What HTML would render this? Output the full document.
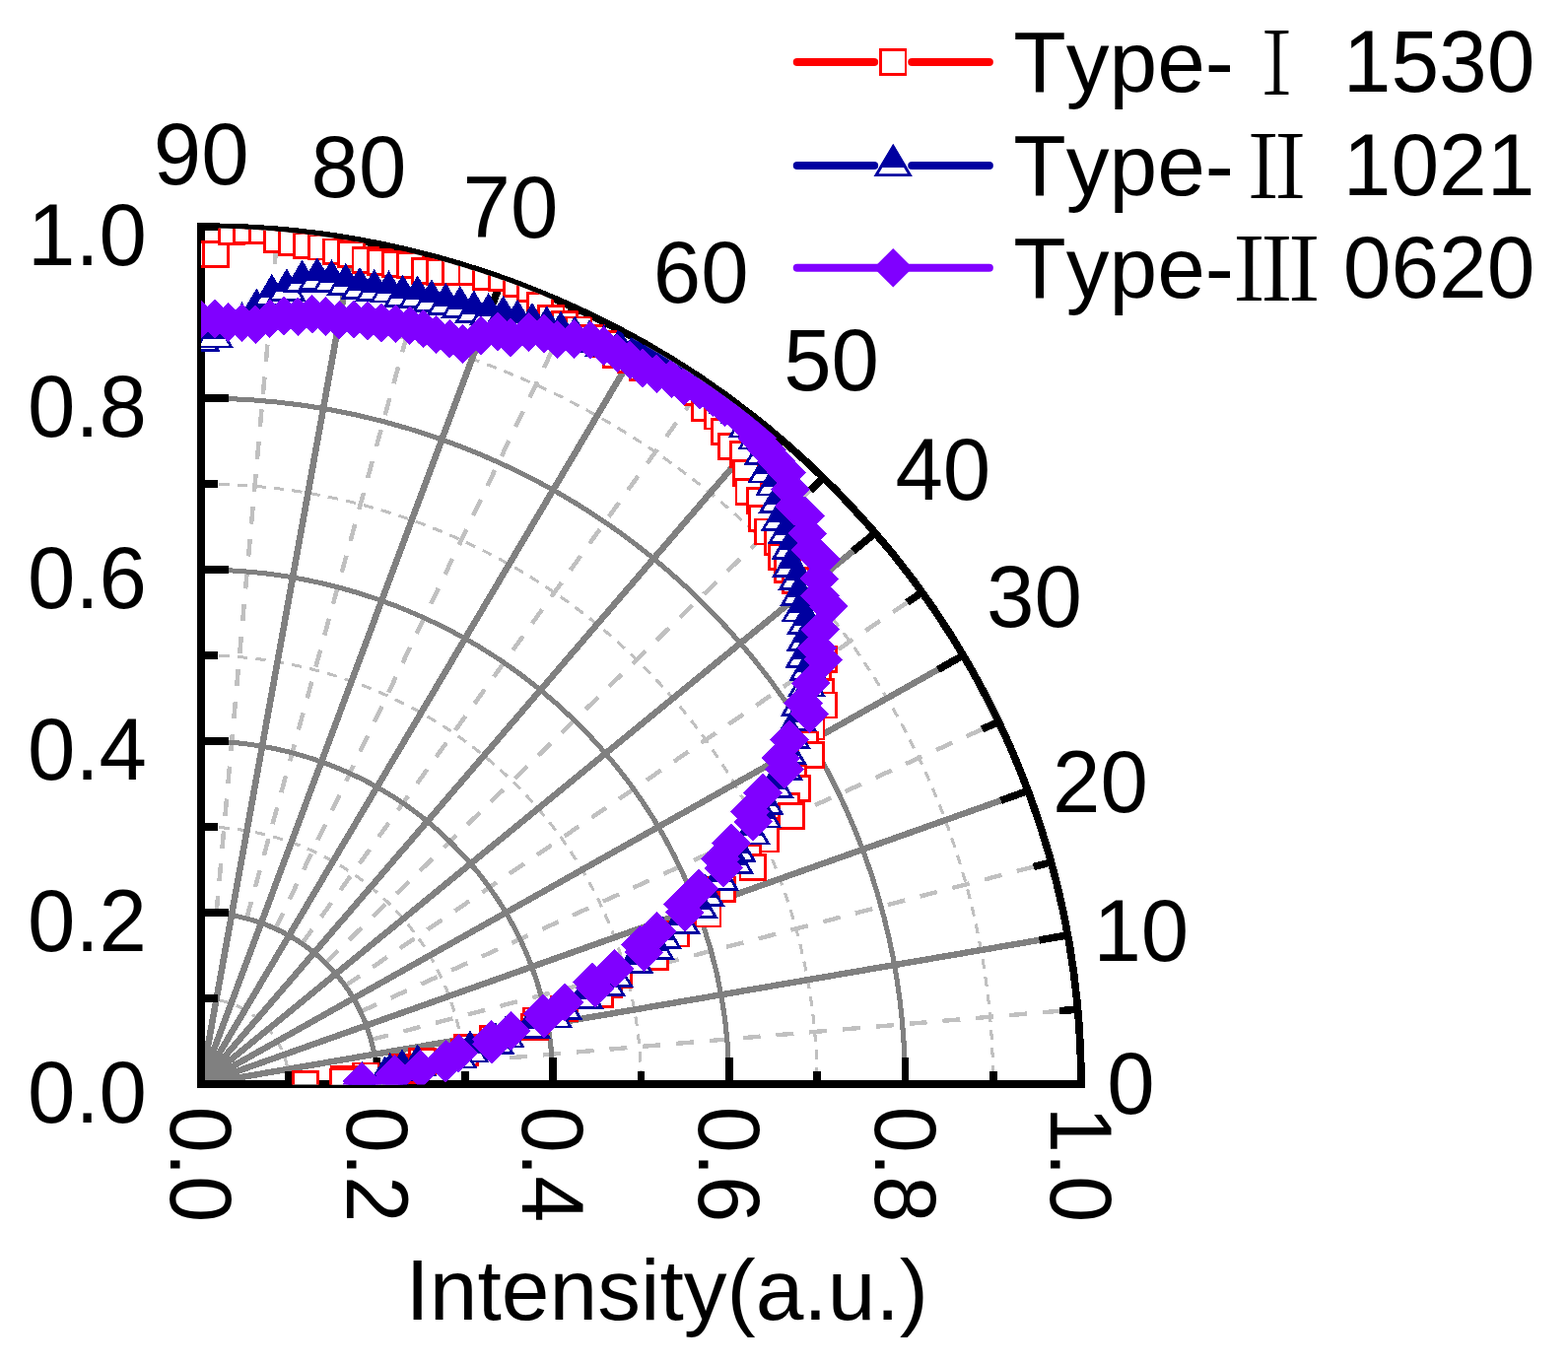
<!DOCTYPE html>
<html lang="en"><head><meta charset="utf-8"><title>Intensity polar plot</title>
<style>
html,body{margin:0;padding:0;background:#fff;}
body{width:1591px;height:1384px;overflow:hidden;}
svg{display:block;}
text{font-family:"Liberation Sans","Noto Serif CJK SC",sans-serif;fill:#000;font-kerning:none;}
.rn{font-family:"Liberation Serif","Noto Serif CJK SC",serif;}
</style></head><body>
<svg xmlns="http://www.w3.org/2000/svg" width="1591" height="1384" viewBox="0 0 1591 1384">
<rect width="1591" height="1384" fill="#fff"/>
<defs><clipPath id="q"><path d="M198.75 1100.5 H1067.25 V1100 A868.5 868.5 0 0 0 198.75 231.5 Z"/></clipPath></defs>
<g transform="scale(1.02644 1)">
<g fill="none" shape-rendering="crispEdges">
<g stroke="#c0c0c0" stroke-width="3" stroke-dasharray="10 8.07">
<path d="M198.7 1013 A87 87 0 0 1 285.7 1100"/>
<path d="M198.7 839 A261 261 0 0 1 459.7 1100"/>
<path d="M198.7 665 A435 435 0 0 1 633.7 1100"/>
<path d="M198.7 491 A609 609 0 0 1 807.7 1100"/>
<path d="M198.7 317 A783 783 0 0 1 981.7 1100"/>
</g>
<g stroke="#c0c0c0" stroke-width="4.4" stroke-dasharray="17.5 15.55">
<path d="M372.1 1084.8 L1065.4 1024.2"/>
<path d="M366.8 1055 L1039.1 874.8"/>
<path d="M356.4 1026.5 L987.2 732.3"/>
<path d="M341.3 1000.2 L911.4 601"/>
<path d="M321.8 977 L813.9 484.8"/>
<path d="M298.5 957.5 L697.8 387.3"/>
<path d="M272.3 942.3 L566.4 311.5"/>
<path d="M243.8 931.9 L423.9 259.6"/>
<path d="M213.9 926.7 L274.6 233.3"/>
</g>
<g stroke="#808080" stroke-width="5">
<path d="M198.7 926 A174 174 0 0 1 372.7 1100"/>
<path d="M198.7 752 A348 348 0 0 1 546.7 1100"/>
<path d="M198.7 578 A522 522 0 0 1 720.7 1100"/>
<path d="M198.7 404 A696 696 0 0 1 894.7 1100"/>
</g>
<g stroke="#808080" stroke-width="6.4">
<path d="M198.7 1100 L1055.5 948.9"/>
<path d="M198.7 1100 L1016.3 802.4"/>
<path d="M198.7 1100 L952.2 665"/>
<path d="M198.7 1100 L865.2 540.8"/>
<path d="M198.7 1100 L758 433.5"/>
<path d="M198.7 1100 L633.7 346.6"/>
<path d="M198.7 1100 L496.3 282.5"/>
<path d="M198.7 1100 L349.8 243.2"/>
</g>
</g>
<g fill="none" stroke="#000" stroke-width="7.5" shape-rendering="crispEdges">
<path d="M198.7 226.2 L198.7 1100 L1068.7 1100 A870 870 0 0 0 198.7 230" stroke-linejoin="miter"/>
<path d="M198.7 1013 H215.3"/>
<path d="M198.7 926 H226"/>
<path d="M198.7 839 H215.3"/>
<path d="M198.7 752 H226"/>
<path d="M198.7 665 H215.3"/>
<path d="M198.7 578 H226"/>
<path d="M198.7 491 H215.3"/>
<path d="M198.7 404 H226"/>
<path d="M198.7 317 H215.3"/>
<path d="M285.7 1100 V1087"/>
<path d="M372.7 1100 V1072.7"/>
<path d="M459.7 1100 V1087"/>
<path d="M546.7 1100 V1072.7"/>
<path d="M633.7 1100 V1087"/>
<path d="M720.7 1100 V1072.7"/>
<path d="M807.7 1100 V1087"/>
<path d="M894.7 1100 V1072.7"/>
<path d="M981.7 1100 V1087"/>
<path d="M1065.4 1024.2 L1047.5 1025.7"/>
<path d="M1055.5 948.9 L1027.3 953.9"/>
<path d="M1039.1 874.8 L1021.7 879.5"/>
<path d="M1016.3 802.4 L989.3 812.3"/>
<path d="M987.2 732.3 L970.9 739.9"/>
<path d="M952.2 665 L927.3 679.4"/>
<path d="M911.4 601 L896.7 611.3"/>
<path d="M865.2 540.8 L843.2 559.2"/>
<path d="M813.9 484.8 L801.2 497.5"/>
<path d="M758 433.5 L739.5 455.5"/>
<path d="M697.8 387.3 L687.4 402.1"/>
<path d="M633.7 346.6 L619.4 371.4"/>
<path d="M566.4 311.5 L558.8 327.8"/>
<path d="M496.3 282.5 L486.5 309.4"/>
<path d="M423.9 259.6 L419.3 277"/>
<path d="M349.8 243.2 L344.8 271.5"/>
<path d="M274.6 233.3 L273 251.2"/>
</g>
<g clip-path="url(#q)" shape-rendering="crispEdges">
<g fill="#fff" stroke="#ff0000" stroke-width="2.8">
<rect x="186.3" y="245.4" width="24.9" height="24.9"/>
<rect x="201" y="245.5" width="24.9" height="24.9"/>
<rect x="216.5" y="222.4" width="24.9" height="24.9"/>
<rect x="231.7" y="221.3" width="24.9" height="24.9"/>
<rect x="246.9" y="221.4" width="24.9" height="24.9"/>
<rect x="261.3" y="230.4" width="24.9" height="24.9"/>
<rect x="276.1" y="233.6" width="24.9" height="24.9"/>
<rect x="290.7" y="237" width="24.9" height="24.9"/>
<rect x="305.7" y="238.1" width="24.9" height="24.9"/>
<rect x="320.1" y="242.9" width="24.9" height="24.9"/>
<rect x="334.8" y="245.3" width="24.9" height="24.9"/>
<rect x="348.8" y="251.5" width="24.9" height="24.9"/>
<rect x="363.6" y="253.6" width="24.9" height="24.9"/>
<rect x="378.4" y="255.5" width="24.9" height="24.9"/>
<rect x="393.4" y="256.9" width="24.9" height="24.9"/>
<rect x="407.4" y="262.3" width="24.9" height="24.9"/>
<rect x="422.5" y="263.8" width="24.9" height="24.9"/>
<rect x="438.1" y="263.9" width="24.9" height="24.9"/>
<rect x="454" y="263.7" width="24.9" height="24.9"/>
<rect x="468.3" y="268.7" width="24.9" height="24.9"/>
<rect x="483.9" y="270" width="24.9" height="24.9"/>
<rect x="498.1" y="275.3" width="24.9" height="24.9"/>
<rect x="512.2" y="280.9" width="24.9" height="24.9"/>
<rect x="521.5" y="297.9" width="24.9" height="24.9"/>
<rect x="532.4" y="310.3" width="24.9" height="24.9"/>
<rect x="545.9" y="316.4" width="24.9" height="24.9"/>
<rect x="559.7" y="322" width="24.9" height="24.9"/>
<rect x="572.2" y="330.2" width="24.9" height="24.9"/>
<rect x="585.8" y="336.3" width="24.9" height="24.9"/>
<rect x="596.7" y="347.2" width="24.9" height="24.9"/>
<rect x="610.9" y="352.2" width="24.9" height="24.9"/>
<rect x="623.2" y="360.5" width="24.9" height="24.9"/>
<rect x="642.7" y="357.1" width="24.9" height="24.9"/>
<rect x="656.3" y="363.7" width="24.9" height="24.9"/>
<rect x="668.9" y="372.1" width="24.9" height="24.9"/>
<rect x="677.6" y="385.9" width="24.9" height="24.9"/>
<rect x="684.4" y="402" width="24.9" height="24.9"/>
<rect x="696.8" y="410.1" width="24.9" height="24.9"/>
<rect x="703.7" y="425.3" width="24.9" height="24.9"/>
<rect x="710.3" y="440.5" width="24.9" height="24.9"/>
<rect x="722.6" y="448.4" width="24.9" height="24.9"/>
<rect x="725.1" y="467.7" width="24.9" height="24.9"/>
<rect x="727.7" y="486.3" width="24.9" height="24.9"/>
<rect x="738.7" y="495.2" width="24.9" height="24.9"/>
<rect x="740.5" y="513.7" width="24.9" height="24.9"/>
<rect x="746.7" y="527.1" width="24.9" height="24.9"/>
<rect x="756.2" y="537.2" width="24.9" height="24.9"/>
<rect x="760.2" y="552.4" width="24.9" height="24.9"/>
<rect x="766.2" y="565.4" width="24.9" height="24.9"/>
<rect x="774.3" y="576.4" width="24.9" height="24.9"/>
<rect x="786.1" y="584.2" width="24.9" height="24.9"/>
<rect x="788" y="600.3" width="24.9" height="24.9"/>
<rect x="795.1" y="611.9" width="24.9" height="24.9"/>
<rect x="792.2" y="631" width="24.9" height="24.9"/>
<rect x="790.2" y="648.8" width="24.9" height="24.9"/>
<rect x="802" y="656.4" width="24.9" height="24.9"/>
<rect x="795.8" y="676.5" width="24.9" height="24.9"/>
<rect x="799.2" y="689.5" width="24.9" height="24.9"/>
<rect x="801.6" y="703.1" width="24.9" height="24.9"/>
<rect x="789.6" y="725.1" width="24.9" height="24.9"/>
<rect x="783" y="743" width="24.9" height="24.9"/>
<rect x="788.9" y="753.5" width="24.9" height="24.9"/>
<rect x="771.3" y="776.5" width="24.9" height="24.9"/>
<rect x="775.4" y="787.4" width="24.9" height="24.9"/>
<rect x="764.9" y="805.3" width="24.9" height="24.9"/>
<rect x="769.8" y="815.5" width="24.9" height="24.9"/>
<rect x="744.2" y="839.1" width="24.9" height="24.9"/>
<rect x="726.9" y="858.1" width="24.9" height="24.9"/>
<rect x="731.6" y="867.2" width="24.9" height="24.9"/>
<rect x="701.2" y="889.9" width="24.9" height="24.9"/>
<rect x="685.8" y="905.7" width="24.9" height="24.9"/>
<rect x="687.3" y="915.1" width="24.9" height="24.9"/>
<rect x="655.9" y="935" width="24.9" height="24.9"/>
<rect x="634.7" y="950.4" width="24.9" height="24.9"/>
<rect x="635.4" y="958.8" width="24.9" height="24.9"/>
<rect x="598.9" y="977" width="24.9" height="24.9"/>
<rect x="589.8" y="986.9" width="24.9" height="24.9"/>
<rect x="580.5" y="996.5" width="24.9" height="24.9"/>
<rect x="545.4" y="1011.2" width="24.9" height="24.9"/>
<rect x="517.7" y="1023.1" width="24.9" height="24.9"/>
<rect x="516.2" y="1029.4" width="24.9" height="24.9"/>
<rect x="475" y="1041.8" width="24.9" height="24.9"/>
<rect x="449.1" y="1050.6" width="24.9" height="24.9"/>
<rect x="447.1" y="1055.5" width="24.9" height="24.9"/>
<rect x="405.2" y="1064.5" width="24.9" height="24.9"/>
<rect x="384.8" y="1070.2" width="24.9" height="24.9"/>
<rect x="385" y="1073.7" width="24.9" height="24.9"/>
<rect x="349.2" y="1079" width="24.9" height="24.9"/>
<rect x="328" y="1082.6" width="24.9" height="24.9"/>
<rect x="327.2" y="1085.1" width="24.9" height="24.9"/>
<rect x="289.5" y="1087.5" width="24.9" height="24.9"/>
</g>
<g stroke="#0000a0" stroke-width="2.8" stroke-linejoin="miter">
<path d="M198.7 326.4 L215.5 355.4 L182 355.4 Z" fill="#fff"/><path d="M198.7 326.4 L210.2 346.2 L187.3 346.2 Z" fill="#0000a0"/>
<path d="M212 323 L228.7 352 L195.2 352 Z" fill="#fff"/><path d="M212 323 L223.4 342.8 L200.5 342.8 Z" fill="#0000a0"/>
<path d="M225.7 309.5 L242.4 338.4 L209 338.4 Z" fill="#fff"/><path d="M225.7 309.5 L237.1 329.3 L214.2 329.3 Z" fill="#0000a0"/>
<path d="M239.2 309.2 L255.9 338.2 L222.5 338.2 Z" fill="#fff"/><path d="M239.2 309.2 L250.6 329 L227.7 329 Z" fill="#0000a0"/>
<path d="M253.7 295.3 L270.4 324.2 L236.9 324.2 Z" fill="#fff"/><path d="M253.7 295.3 L265.1 315.1 L242.2 315.1 Z" fill="#0000a0"/>
<path d="M268.7 280.7 L285.5 309.7 L252 309.7 Z" fill="#fff"/><path d="M268.7 280.7 L280.2 300.5 L257.3 300.5 Z" fill="#0000a0"/>
<path d="M283.4 275.2 L300.1 304.1 L266.7 304.1 Z" fill="#fff"/><path d="M283.4 275.2 L294.8 295 L272 295 Z" fill="#0000a0"/>
<path d="M298.7 266.4 L315.5 295.4 L282 295.4 Z" fill="#fff"/><path d="M298.7 266.4 L310.2 286.2 L287.3 286.2 Z" fill="#0000a0"/>
<path d="M313.5 264 L330.3 292.9 L296.8 292.9 Z" fill="#fff"/><path d="M313.5 264 L325 283.8 L302.1 283.8 Z" fill="#0000a0"/>
<path d="M327.8 266.1 L344.5 295.1 L311 295.1 Z" fill="#fff"/><path d="M327.8 266.1 L339.2 285.9 L316.3 285.9 Z" fill="#0000a0"/>
<path d="M341.7 269.7 L358.5 298.7 L325 298.7 Z" fill="#fff"/><path d="M341.7 269.7 L353.2 289.6 L330.3 289.6 Z" fill="#0000a0"/>
<path d="M355.6 273.6 L372.3 302.6 L338.9 302.6 Z" fill="#fff"/><path d="M355.6 273.6 L367.1 293.5 L344.2 293.5 Z" fill="#0000a0"/>
<path d="M369.9 275.7 L386.6 304.6 L353.1 304.6 Z" fill="#fff"/><path d="M369.9 275.7 L381.3 295.5 L358.4 295.5 Z" fill="#0000a0"/>
<path d="M384.3 277.1 L401 306 L367.6 306 Z" fill="#fff"/><path d="M384.3 277.1 L395.7 296.9 L372.8 296.9 Z" fill="#0000a0"/>
<path d="M398.1 281.3 L414.8 310.2 L381.3 310.2 Z" fill="#fff"/><path d="M398.1 281.3 L409.5 301.1 L386.6 301.1 Z" fill="#0000a0"/>
<path d="M412.7 282.3 L429.4 311.3 L395.9 311.3 Z" fill="#fff"/><path d="M412.7 282.3 L424.1 302.2 L401.2 302.2 Z" fill="#0000a0"/>
<path d="M426.6 286.2 L443.3 315.2 L409.8 315.2 Z" fill="#fff"/><path d="M426.6 286.2 L438 306 L415.1 306 Z" fill="#0000a0"/>
<path d="M440.6 289.5 L457.4 318.4 L423.9 318.4 Z" fill="#fff"/><path d="M440.6 289.5 L452.1 309.3 L429.2 309.3 Z" fill="#0000a0"/>
<path d="M454.8 292.6 L471.5 321.5 L438.1 321.5 Z" fill="#fff"/><path d="M454.8 292.6 L466.3 312.4 L443.4 312.4 Z" fill="#0000a0"/>
<path d="M468.5 297.2 L485.2 326.2 L451.8 326.2 Z" fill="#fff"/><path d="M468.5 297.2 L479.9 317.1 L457.1 317.1 Z" fill="#0000a0"/>
<path d="M482.9 299.9 L499.6 328.9 L466.2 328.9 Z" fill="#fff"/><path d="M482.9 299.9 L494.4 319.8 L471.5 319.8 Z" fill="#0000a0"/>
<path d="M497.4 302.6 L514.2 331.6 L480.7 331.6 Z" fill="#fff"/><path d="M497.4 302.6 L508.9 322.4 L486 322.4 Z" fill="#0000a0"/>
<path d="M511.6 306.3 L528.3 335.3 L494.9 335.3 Z" fill="#fff"/><path d="M511.6 306.3 L523.1 326.1 L500.2 326.1 Z" fill="#0000a0"/>
<path d="M526.1 309.5 L542.8 338.4 L509.4 338.4 Z" fill="#fff"/><path d="M526.1 309.5 L537.5 329.3 L514.7 329.3 Z" fill="#0000a0"/>
<path d="M540.6 312.9 L557.3 341.9 L523.9 341.9 Z" fill="#fff"/><path d="M540.6 312.9 L552 332.7 L529.1 332.7 Z" fill="#0000a0"/>
<path d="M554.3 318.2 L571 347.2 L537.6 347.2 Z" fill="#fff"/><path d="M554.3 318.2 L565.7 338 L542.9 338 Z" fill="#0000a0"/>
<path d="M568.3 323 L585 351.9 L551.6 351.9 Z" fill="#fff"/><path d="M568.3 323 L579.7 342.8 L556.9 342.8 Z" fill="#0000a0"/>
<path d="M582.7 327.2 L599.4 356.2 L565.9 356.2 Z" fill="#fff"/><path d="M582.7 327.2 L594.1 347 L571.2 347 Z" fill="#0000a0"/>
<path d="M597 331.7 L613.7 360.7 L580.2 360.7 Z" fill="#fff"/><path d="M597 331.7 L608.4 351.5 L585.5 351.5 Z" fill="#0000a0"/>
<path d="M612.1 335 L628.8 364 L595.4 364 Z" fill="#fff"/><path d="M612.1 335 L623.5 354.8 L600.7 354.8 Z" fill="#0000a0"/>
<path d="M627.2 338.5 L643.9 367.5 L610.5 367.5 Z" fill="#fff"/><path d="M627.2 338.5 L638.7 358.4 L615.8 358.4 Z" fill="#0000a0"/>
<path d="M642.3 342.4 L659.1 371.4 L625.6 371.4 Z" fill="#fff"/><path d="M642.3 342.4 L653.8 362.2 L630.9 362.2 Z" fill="#0000a0"/>
<path d="M657 347.3 L673.7 376.3 L640.3 376.3 Z" fill="#fff"/><path d="M657 347.3 L668.4 367.1 L645.6 367.1 Z" fill="#0000a0"/>
<path d="M670.2 354.7 L686.9 383.7 L653.5 383.7 Z" fill="#fff"/><path d="M670.2 354.7 L681.7 374.5 L658.8 374.5 Z" fill="#0000a0"/>
<path d="M683.3 362.3 L700 391.3 L666.6 391.3 Z" fill="#fff"/><path d="M683.3 362.3 L694.7 382.1 L671.9 382.1 Z" fill="#0000a0"/>
<path d="M695.8 370.9 L712.5 399.8 L679 399.8 Z" fill="#fff"/><path d="M695.8 370.9 L707.2 390.7 L684.3 390.7 Z" fill="#0000a0"/>
<path d="M708.1 379.7 L724.8 408.6 L691.3 408.6 Z" fill="#fff"/><path d="M708.1 379.7 L719.5 399.5 L696.6 399.5 Z" fill="#0000a0"/>
<path d="M719.7 389.3 L736.4 418.3 L703 418.3 Z" fill="#fff"/><path d="M719.7 389.3 L731.1 409.2 L708.3 409.2 Z" fill="#0000a0"/>
<path d="M730.6 399.9 L747.3 428.9 L713.9 428.9 Z" fill="#fff"/><path d="M730.6 399.9 L742.1 419.7 L719.2 419.7 Z" fill="#0000a0"/>
<path d="M738.6 414 L755.3 443 L721.9 443 Z" fill="#fff"/><path d="M738.6 414 L750 433.8 L727.2 433.8 Z" fill="#0000a0"/>
<path d="M748.2 425.9 L764.9 454.9 L731.5 454.9 Z" fill="#fff"/><path d="M748.2 425.9 L759.6 445.7 L736.7 445.7 Z" fill="#0000a0"/>
<path d="M754.1 441.8 L770.8 470.8 L737.4 470.8 Z" fill="#fff"/><path d="M754.1 441.8 L765.5 461.6 L742.7 461.6 Z" fill="#0000a0"/>
<path d="M757.6 460 L774.3 489 L740.9 489 Z" fill="#fff"/><path d="M757.6 460 L769 479.8 L746.2 479.8 Z" fill="#0000a0"/>
<path d="M765.4 473 L782.1 502 L748.7 502 Z" fill="#fff"/><path d="M765.4 473 L776.8 492.9 L753.9 492.9 Z" fill="#0000a0"/>
<path d="M768.7 490.5 L785.4 519.5 L751.9 519.5 Z" fill="#fff"/><path d="M768.7 490.5 L780.1 510.3 L757.2 510.3 Z" fill="#0000a0"/>
<path d="M770.9 508.6 L787.6 537.5 L754.1 537.5 Z" fill="#fff"/><path d="M770.9 508.6 L782.3 528.4 L759.4 528.4 Z" fill="#0000a0"/>
<path d="M777.6 521.7 L794.4 550.6 L760.9 550.6 Z" fill="#fff"/><path d="M777.6 521.7 L789.1 541.5 L766.2 541.5 Z" fill="#0000a0"/>
<path d="M781.6 537.2 L798.3 566.2 L764.9 566.2 Z" fill="#fff"/><path d="M781.6 537.2 L793 557 L770.1 557 Z" fill="#0000a0"/>
<path d="M781.9 555.6 L798.6 584.6 L765.2 584.6 Z" fill="#fff"/><path d="M781.9 555.6 L793.4 575.4 L770.5 575.4 Z" fill="#0000a0"/>
<path d="M788.4 568.1 L805.1 597.1 L771.6 597.1 Z" fill="#fff"/><path d="M788.4 568.1 L799.8 587.9 L776.9 587.9 Z" fill="#0000a0"/>
<path d="M789.9 584.7 L806.6 613.6 L773.2 613.6 Z" fill="#fff"/><path d="M789.9 584.7 L801.3 604.5 L778.5 604.5 Z" fill="#0000a0"/>
<path d="M791 601.1 L807.7 630 L774.3 630 Z" fill="#fff"/><path d="M791 601.1 L802.5 620.9 L779.6 620.9 Z" fill="#0000a0"/>
<path d="M796.6 613.6 L813.3 642.6 L779.8 642.6 Z" fill="#fff"/><path d="M796.6 613.6 L808 633.4 L785.1 633.4 Z" fill="#0000a0"/>
<path d="M796.3 630.4 L813 659.4 L779.6 659.4 Z" fill="#fff"/><path d="M796.3 630.4 L807.7 650.2 L784.8 650.2 Z" fill="#0000a0"/>
<path d="M794.9 647.6 L811.6 676.5 L778.2 676.5 Z" fill="#fff"/><path d="M794.9 647.6 L806.3 667.4 L783.5 667.4 Z" fill="#0000a0"/>
<path d="M798.8 660.5 L815.5 689.5 L782.1 689.5 Z" fill="#fff"/><path d="M798.8 660.5 L810.2 680.3 L787.4 680.3 Z" fill="#0000a0"/>
<path d="M797.4 676.9 L814.1 705.9 L780.7 705.9 Z" fill="#fff"/><path d="M797.4 676.9 L808.8 696.7 L786 696.7 Z" fill="#0000a0"/>
<path d="M790.5 696.4 L807.2 725.4 L773.8 725.4 Z" fill="#fff"/><path d="M790.5 696.4 L801.9 716.2 L779 716.2 Z" fill="#0000a0"/>
<path d="M789 711.9 L805.7 740.8 L772.3 740.8 Z" fill="#fff"/><path d="M789 711.9 L800.4 731.7 L777.5 731.7 Z" fill="#0000a0"/>
<path d="M782.7 729.8 L799.4 758.8 L765.9 758.8 Z" fill="#fff"/><path d="M782.7 729.8 L794.1 749.7 L771.2 749.7 Z" fill="#0000a0"/>
<path d="M778.9 745.7 L795.6 774.7 L762.2 774.7 Z" fill="#fff"/><path d="M778.9 745.7 L790.3 765.6 L767.5 765.6 Z" fill="#0000a0"/>
<path d="M774.8 761.4 L791.5 790.4 L758 790.4 Z" fill="#fff"/><path d="M774.8 761.4 L786.2 781.2 L763.3 781.2 Z" fill="#0000a0"/>
<path d="M765.7 779.3 L782.4 808.2 L748.9 808.2 Z" fill="#fff"/><path d="M765.7 779.3 L777.1 799.1 L754.2 799.1 Z" fill="#0000a0"/>
<path d="M756.1 796.7 L772.8 825.7 L739.4 825.7 Z" fill="#fff"/><path d="M756.1 796.7 L767.5 816.5 L744.7 816.5 Z" fill="#0000a0"/>
<path d="M753.9 809.9 L770.7 838.9 L737.2 838.9 Z" fill="#fff"/><path d="M753.9 809.9 L765.4 829.7 L742.5 829.7 Z" fill="#0000a0"/>
<path d="M742.8 827 L759.5 856 L726.1 856 Z" fill="#fff"/><path d="M742.8 827 L754.2 846.8 L731.4 846.8 Z" fill="#0000a0"/>
<path d="M728.9 844.7 L745.6 873.6 L712.1 873.6 Z" fill="#fff"/><path d="M728.9 844.7 L740.3 864.5 L717.4 864.5 Z" fill="#0000a0"/>
<path d="M726.5 856.7 L743.2 885.6 L709.8 885.6 Z" fill="#fff"/><path d="M726.5 856.7 L737.9 876.5 L715.1 876.5 Z" fill="#0000a0"/>
<path d="M711.8 873.4 L728.5 902.4 L695 902.4 Z" fill="#fff"/><path d="M711.8 873.4 L723.2 893.2 L700.3 893.2 Z" fill="#0000a0"/>
<path d="M697.4 889.3 L714.2 918.2 L680.7 918.2 Z" fill="#fff"/><path d="M697.4 889.3 L708.9 909.1 L686 909.1 Z" fill="#0000a0"/>
<path d="M690.9 901.6 L707.6 930.5 L674.2 930.5 Z" fill="#fff"/><path d="M690.9 901.6 L702.3 921.4 L679.5 921.4 Z" fill="#0000a0"/>
<path d="M673.4 917.3 L690.1 946.2 L656.7 946.2 Z" fill="#fff"/><path d="M673.4 917.3 L684.8 937.1 L661.9 937.1 Z" fill="#0000a0"/>
<path d="M655.1 932.4 L671.8 961.4 L638.3 961.4 Z" fill="#fff"/><path d="M655.1 932.4 L666.5 952.2 L643.6 952.2 Z" fill="#0000a0"/>
<path d="M648 943.3 L664.7 972.3 L631.3 972.3 Z" fill="#fff"/><path d="M648 943.3 L659.5 963.1 L636.6 963.1 Z" fill="#0000a0"/>
<path d="M627.3 957.8 L644.1 986.8 L610.6 986.8 Z" fill="#fff"/><path d="M627.3 957.8 L638.8 977.6 L615.9 977.6 Z" fill="#0000a0"/>
<path d="M607.2 971.3 L623.9 1000.2 L590.4 1000.2 Z" fill="#fff"/><path d="M607.2 971.3 L618.6 991.1 L595.7 991.1 Z" fill="#0000a0"/>
<path d="M599.7 980.7 L616.4 1009.7 L583 1009.7 Z" fill="#fff"/><path d="M599.7 980.7 L611.2 1000.5 L588.3 1000.5 Z" fill="#0000a0"/>
<path d="M577.7 993.2 L594.4 1022.2 L560.9 1022.2 Z" fill="#fff"/><path d="M577.7 993.2 L589.1 1013 L566.2 1013 Z" fill="#0000a0"/>
<path d="M557 1004.5 L573.7 1033.5 L540.3 1033.5 Z" fill="#fff"/><path d="M557 1004.5 L568.5 1024.3 L545.6 1024.3 Z" fill="#0000a0"/>
<path d="M547.2 1013 L563.9 1041.9 L530.5 1041.9 Z" fill="#fff"/><path d="M547.2 1013 L558.6 1032.8 L535.7 1032.8 Z" fill="#0000a0"/>
<path d="M525.2 1023.1 L541.9 1052.1 L508.5 1052.1 Z" fill="#fff"/><path d="M525.2 1023.1 L536.6 1042.9 L513.7 1042.9 Z" fill="#0000a0"/>
<path d="M499.9 1033 L516.7 1062 L483.2 1062 Z" fill="#fff"/><path d="M499.9 1033 L511.4 1052.8 L488.5 1052.8 Z" fill="#0000a0"/>
<path d="M489.9 1039.8 L506.7 1068.7 L473.2 1068.7 Z" fill="#fff"/><path d="M489.9 1039.8 L501.4 1059.6 L478.5 1059.6 Z" fill="#0000a0"/>
<path d="M464.7 1048 L481.4 1077 L448 1077 Z" fill="#fff"/><path d="M464.7 1048 L476.1 1067.8 L453.3 1067.8 Z" fill="#0000a0"/>
<path d="M453.1 1054 L469.8 1082.9 L436.4 1082.9 Z" fill="#fff"/><path d="M453.1 1054 L464.6 1073.8 L441.7 1073.8 Z" fill="#0000a0"/>
<path d="M412.8 1062 L429.5 1090.9 L396.1 1090.9 Z" fill="#fff"/><path d="M412.8 1062 L424.3 1081.8 L401.4 1081.8 Z" fill="#0000a0"/>
<path d="M397.5 1066.8 L414.2 1095.8 L380.8 1095.8 Z" fill="#fff"/><path d="M397.5 1066.8 L408.9 1086.6 L386.1 1086.6 Z" fill="#0000a0"/>
<path d="M385.5 1070.9 L402.3 1099.9 L368.8 1099.9 Z" fill="#fff"/><path d="M385.5 1070.9 L397 1090.7 L374.1 1090.7 Z" fill="#0000a0"/>
<path d="M380.5 1074.3 L397.2 1103.3 L363.7 1103.3 Z" fill="#fff"/><path d="M380.5 1074.3 L391.9 1094.2 L369 1094.2 Z" fill="#0000a0"/>
<path d="M358 1079.9 L374.7 1108.8 L341.2 1108.8 Z" fill="#fff"/><path d="M358 1079.9 L369.4 1099.7 L346.5 1099.7 Z" fill="#0000a0"/>
<path d="M358 1080.7 L374.7 1109.7 L341.2 1109.7 Z" fill="#fff"/><path d="M358 1080.7 L369.4 1100.5 L346.5 1100.5 Z" fill="#0000a0"/>
</g>
<g fill="#8000ff" stroke="none">
<path d="M198.7 304.2 L218 324 L198.7 343.8 L179.4 324 Z"/>
<path d="M212.3 303.8 L231.6 323.6 L212.3 343.4 L193 323.6 Z"/>
<path d="M225.7 307.2 L245 327 L225.7 346.8 L206.4 327 Z"/>
<path d="M239.2 307.8 L258.5 327.6 L239.2 347.4 L219.9 327.6 Z"/>
<path d="M252.6 309.5 L271.9 329.3 L252.6 349.1 L233.3 329.3 Z"/>
<path d="M266.7 303.6 L286 323.4 L266.7 343.2 L247.4 323.4 Z"/>
<path d="M280.7 300.6 L300 320.4 L280.7 340.2 L261.4 320.4 Z"/>
<path d="M294.4 301.3 L313.7 321.1 L294.4 340.9 L275.1 321.1 Z"/>
<path d="M308.6 298.8 L327.9 318.6 L308.6 338.4 L289.3 318.6 Z"/>
<path d="M322.1 301.3 L341.4 321.1 L322.1 340.9 L302.8 321.1 Z"/>
<path d="M335.5 304.8 L354.8 324.6 L335.5 344.4 L316.2 324.6 Z"/>
<path d="M349.6 304.2 L368.9 324 L349.6 343.8 L330.3 324 Z"/>
<path d="M363.3 305.8 L382.6 325.6 L363.3 345.4 L344 325.6 Z"/>
<path d="M377 307.9 L396.3 327.7 L377 347.5 L357.7 327.7 Z"/>
<path d="M391.1 308.6 L410.4 328.4 L391.1 348.2 L371.8 328.4 Z"/>
<path d="M405 310.4 L424.3 330.2 L405 350 L385.7 330.2 Z"/>
<path d="M418.5 313.7 L437.8 333.5 L418.5 353.3 L399.2 333.5 Z"/>
<path d="M431.2 319.8 L450.5 339.6 L431.2 359.4 L411.9 339.6 Z"/>
<path d="M444.5 323.9 L463.8 343.7 L444.5 363.5 L425.2 343.7 Z"/>
<path d="M457.3 329.2 L476.6 349 L457.3 368.8 L438 349 Z"/>
<path d="M475.2 320.7 L494.5 340.5 L475.2 360.3 L455.9 340.5 Z"/>
<path d="M491.8 316.7 L511.1 336.5 L491.8 356.3 L472.5 336.5 Z"/>
<path d="M504.8 322.8 L524.1 342.6 L504.8 362.4 L485.5 342.6 Z"/>
<path d="M522.7 317 L542 336.8 L522.7 356.6 L503.4 336.8 Z"/>
<path d="M537.7 318.8 L557 338.6 L537.7 358.4 L518.4 338.6 Z"/>
<path d="M551 324.8 L570.3 344.6 L551 364.4 L531.7 344.6 Z"/>
<path d="M567.4 324.4 L586.7 344.2 L567.4 364 L548.1 344.2 Z"/>
<path d="M583.4 325.2 L602.7 345 L583.4 364.8 L564.1 345 Z"/>
<path d="M597 331.2 L616.3 351 L597 370.8 L577.7 351 Z"/>
<path d="M610 338.3 L629.3 358.1 L610 377.9 L590.7 358.1 Z"/>
<path d="M622.9 345.6 L642.2 365.4 L622.9 385.2 L603.6 365.4 Z"/>
<path d="M635.2 353.9 L654.5 373.7 L635.2 393.5 L615.9 373.7 Z"/>
<path d="M649.2 359.4 L668.5 379.2 L649.2 399 L629.9 379.2 Z"/>
<path d="M663.6 364.4 L682.9 384.2 L663.6 404 L644.3 384.2 Z"/>
<path d="M676.5 371.9 L695.8 391.7 L676.5 411.5 L657.2 391.7 Z"/>
<path d="M691.8 376.1 L711.1 395.9 L691.8 415.7 L672.5 395.9 Z"/>
<path d="M705 383.4 L724.3 403.2 L705 423 L685.7 403.2 Z"/>
<path d="M716.6 393 L735.9 412.8 L716.6 432.6 L697.3 412.8 Z"/>
<path d="M729 401.5 L748.3 421.3 L729 441.1 L709.7 421.3 Z"/>
<path d="M739.7 412.2 L759 432 L739.7 451.8 L720.4 432 Z"/>
<path d="M748.5 425.1 L767.8 444.9 L748.5 464.7 L729.2 444.9 Z"/>
<path d="M758.1 436.7 L777.4 456.5 L758.1 476.3 L738.8 456.5 Z"/>
<path d="M767.5 448.5 L786.8 468.3 L767.5 488.1 L748.2 468.3 Z"/>
<path d="M777.3 459.8 L796.6 479.6 L777.3 499.4 L758 479.6 Z"/>
<path d="M781.3 476.9 L800.6 496.7 L781.3 516.5 L762 496.7 Z"/>
<path d="M785 493.9 L804.3 513.7 L785 533.5 L765.7 513.7 Z"/>
<path d="M795.8 503.6 L815.1 523.4 L795.8 543.2 L776.5 523.4 Z"/>
<path d="M798.1 521.3 L817.4 541.1 L798.1 560.9 L778.8 541.1 Z"/>
<path d="M800.7 538.2 L820 558 L800.7 577.8 L781.4 558 Z"/>
<path d="M811.4 547.7 L830.7 567.5 L811.4 587.3 L792.1 567.5 Z"/>
<path d="M809.9 567.4 L829.2 587.2 L809.9 607 L790.6 587.2 Z"/>
<path d="M810.6 584.7 L829.9 604.5 L810.6 624.3 L791.3 604.5 Z"/>
<path d="M819.2 595.5 L838.5 615.3 L819.2 635.1 L799.9 615.3 Z"/>
<path d="M810.9 618.9 L830.2 638.7 L810.9 658.5 L791.6 638.7 Z"/>
<path d="M807.6 637.9 L826.9 657.7 L807.6 677.5 L788.3 657.7 Z"/>
<path d="M813.8 649.6 L833.1 669.4 L813.8 689.2 L794.5 669.4 Z"/>
<path d="M801.7 673.5 L821 693.3 L801.7 713.1 L782.4 693.3 Z"/>
<path d="M794.1 693.5 L813.4 713.3 L794.1 733.1 L774.8 713.3 Z"/>
<path d="M800.1 704.5 L819.4 724.3 L800.1 744.1 L780.8 724.3 Z"/>
<path d="M780.4 730.7 L799.7 750.5 L780.4 770.3 L761.1 750.5 Z"/>
<path d="M771.7 749.4 L791 769.2 L771.7 789 L752.4 769.2 Z"/>
<path d="M775.5 760.5 L794.8 780.3 L775.5 800.1 L756.2 780.3 Z"/>
<path d="M754.1 784.9 L773.4 804.7 L754.1 824.5 L734.8 804.7 Z"/>
<path d="M741.4 803.7 L760.7 823.5 L741.4 843.3 L722.1 823.5 Z"/>
<path d="M744.5 814 L763.8 833.8 L744.5 853.6 L725.2 833.8 Z"/>
<path d="M723.1 835.7 L742.4 855.5 L723.1 875.3 L703.8 855.5 Z"/>
<path d="M712.2 851.6 L731.5 871.4 L712.2 891.2 L692.9 871.4 Z"/>
<path d="M715.3 860.9 L734.6 880.7 L715.3 900.5 L696 880.7 Z"/>
<path d="M690.8 881.4 L710.1 901.2 L690.8 921 L671.5 901.2 Z"/>
<path d="M674.7 897.5 L694 917.3 L674.7 937.1 L655.4 917.3 Z"/>
<path d="M677 906.1 L696.3 925.9 L677 945.7 L657.7 925.9 Z"/>
<path d="M649.5 925 L668.8 944.8 L649.5 964.6 L630.2 944.8 Z"/>
<path d="M633.1 939.1 L652.4 958.9 L633.1 978.7 L613.8 958.9 Z"/>
<path d="M636.4 946.4 L655.7 966.2 L636.4 986 L617.1 966.2 Z"/>
<path d="M607.7 962.9 L627 982.7 L607.7 1002.5 L588.4 982.7 Z"/>
<path d="M585.3 976.6 L604.6 996.4 L585.3 1016.2 L566 996.4 Z"/>
<path d="M588.3 983.1 L607.6 1002.9 L588.3 1022.7 L569 1002.9 Z"/>
<path d="M558.2 997.2 L577.5 1017 L558.2 1036.8 L538.9 1017 Z"/>
<path d="M536.6 1008.4 L555.9 1028.2 L536.6 1048 L517.3 1028.2 Z"/>
<path d="M537.8 1014.3 L557.1 1034.1 L537.8 1053.9 L518.5 1034.1 Z"/>
<path d="M505 1026.2 L524.3 1046 L505 1065.8 L485.7 1046 Z"/>
<path d="M485.7 1034.7 L505 1054.5 L485.7 1074.3 L466.4 1054.5 Z"/>
<path d="M486.2 1039.8 L505.5 1059.6 L486.2 1079.4 L466.9 1059.6 Z"/>
<path d="M453.5 1048.9 L472.8 1068.7 L453.5 1088.5 L434.2 1068.7 Z"/>
<path d="M441 1054.7 L460.3 1074.5 L441 1094.3 L421.7 1074.5 Z"/>
<path d="M440.6 1059 L459.9 1078.8 L440.6 1098.6 L421.3 1078.8 Z"/>
<path d="M415.7 1065 L435 1084.8 L415.7 1104.6 L396.4 1084.8 Z"/>
<path d="M389.9 1070.2 L409.2 1090 L389.9 1109.8 L370.6 1090 Z"/>
<path d="M390 1073.5 L409.3 1093.3 L390 1113.1 L370.7 1093.3 Z"/>
<path d="M357.9 1077.4 L377.2 1097.2 L357.9 1117 L338.6 1097.2 Z"/>
<path d="M358 1080.2 L377.3 1100 L358 1119.8 L338.7 1100 Z"/>
</g>
</g>
<g>
<text id="l0" transform="translate(145.16 1138.5) scale(0.9533 1)" font-size="88.95" text-anchor="end">0.0</text>
<text id="l1" transform="translate(145.16 964.5) scale(0.9533 1)" font-size="88.95" text-anchor="end">0.2</text>
<text id="l2" transform="translate(145.16 790.5) scale(0.9533 1)" font-size="88.95" text-anchor="end">0.4</text>
<text id="l3" transform="translate(145.16 616.5) scale(0.9533 1)" font-size="88.95" text-anchor="end">0.6</text>
<text id="l4" transform="translate(145.16 442.5) scale(0.9533 1)" font-size="88.95" text-anchor="end">0.8</text>
<text id="l5" transform="translate(145.16 268.5) scale(0.9533 1)" font-size="88.95" text-anchor="end">1.0</text>
<text id="b0" transform="translate(168.75 1122.7) rotate(90) scale(0.9856 1)" font-size="85.9">0.0</text>
<text id="b1" transform="translate(342.75 1122.7) rotate(90) scale(0.9856 1)" font-size="85.9">0.2</text>
<text id="b2" transform="translate(516.75 1122.7) rotate(90) scale(0.9856 1)" font-size="85.9">0.4</text>
<text id="b3" transform="translate(690.75 1122.7) rotate(90) scale(0.9856 1)" font-size="85.9">0.6</text>
<text id="b4" transform="translate(864.75 1122.7) rotate(90) scale(0.9856 1)" font-size="85.9">0.8</text>
<text id="b5" transform="translate(1038.75 1122.7) rotate(90) scale(0.9856 1)" font-size="85.9">1.0</text>
<text id="a0" transform="translate(1141.42 1130.4) scale(0.9533 1)" font-size="88.95" text-anchor="end">0</text>
<text id="a10" transform="translate(1175.13 975.4) scale(0.9533 1)" font-size="88.95" text-anchor="end">10</text>
<text id="a20" transform="translate(1134.8 824) scale(0.9533 1)" font-size="88.95" text-anchor="end">20</text>
<text id="a30" transform="translate(1069.53 635.5) scale(0.9533 1)" font-size="88.95" text-anchor="end">30</text>
<text id="a40" transform="translate(979.31 507.2) scale(0.9533 1)" font-size="88.95" text-anchor="end">40</text>
<text id="a50" transform="translate(869.03 396.3) scale(0.9533 1)" font-size="88.95" text-anchor="end">50</text>
<text id="a60" transform="translate(740.04 307) scale(0.9533 1)" font-size="88.95" text-anchor="end">60</text>
<text id="a70" transform="translate(551.81 240.5) scale(0.9533 1)" font-size="88.95" text-anchor="end">70</text>
<text id="a80" transform="translate(401.68 200.1) scale(0.9533 1)" font-size="88.95" text-anchor="end">80</text>
<text id="a90" transform="translate(246.09 187.3) scale(0.9533 1)" font-size="88.95" text-anchor="end">90</text>
<text id="ttl" transform="translate(400.9 1339.2) scale(0.9749 1)" font-size="87.5">Intensity(a.u.)</text>
</g>
<g>
<g stroke="#ff0000" stroke-width="8" stroke-linecap="round" fill="none"><path d="M788 63.1 H864.2"/><path d="M901.5 63.1 H977.9"/></g>
<g fill="#fff" stroke="#ff0000" stroke-width="2.8" shape-rendering="crispEdges"><rect x="870.4" y="50.7" width="24.9" height="24.9"/></g>
<text id="gsq" transform="translate(1001.72 93.3) scale(0.9749 1)" font-size="87.5">Type-</text>
<text id="rsq" class="rn" transform="translate(1262.13 95.8) scale(0.7600 1)" font-size="87.6" text-anchor="middle">Ⅰ</text>
<text id="nsq" transform="translate(1327.6 93.3) scale(0.9590 1)" font-size="88.95">1530</text>
<g stroke="#0000a0" stroke-width="8" stroke-linecap="round" fill="none"><path d="M788 168 H864.2"/><path d="M901.5 168 H977.9"/></g>
<g stroke="#0000a0" stroke-width="2.8"><path d="M882.9 148.7 L899.6 177.7 L866.1 177.7 Z" fill="#fff"/><path d="M882.9 148.7 L894.3 168.5 L871.4 168.5 Z" fill="#0000a0"/></g>
<text id="gtri" transform="translate(1001.72 198.2) scale(0.9749 1)" font-size="87.5">Type-</text>
<text id="rtri" class="rn" transform="translate(1262.13 200.7) scale(0.9300 1)" font-size="87.6" text-anchor="middle">Ⅱ</text>
<text id="ntri" transform="translate(1327.6 198.2) scale(0.9590 1)" font-size="88.95">1021</text>
<path d="M788 271.8 H977.9" stroke="#8000ff" stroke-width="8" stroke-linecap="round" fill="none"/>
<g fill="#8000ff"><path d="M882.9 252 L902.2 271.8 L882.9 291.6 L863.6 271.8 Z"/></g>
<text id="gdia" transform="translate(1001.72 302) scale(0.9749 1)" font-size="87.5">Type-</text>
<text id="rdia" class="rn" transform="translate(1262.13 304.5) scale(1.0000 1)" font-size="87.6" text-anchor="middle">Ⅲ</text>
<text id="ndia" transform="translate(1327.6 302) scale(0.9590 1)" font-size="88.95">0620</text>
</g>
</g>
</svg>
</body></html>
